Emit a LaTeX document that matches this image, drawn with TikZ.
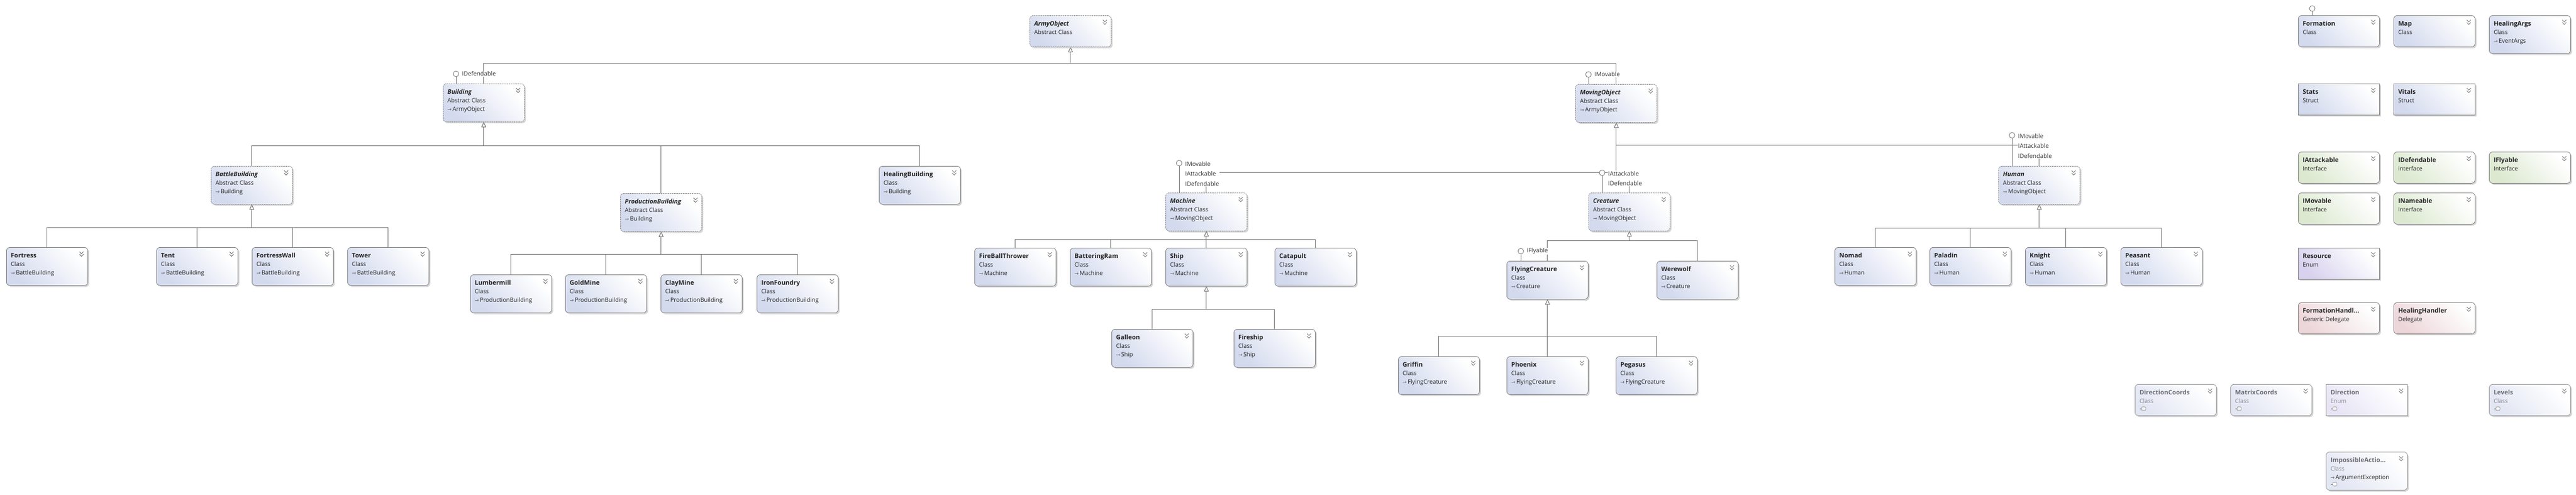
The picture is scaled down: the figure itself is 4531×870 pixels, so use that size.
\documentclass[tikz,border=0pt]{standalone}
\usepackage{fontspec}
\setmainfont{Open Sans}
\newfontfamily\arrfont{DejaVu Sans}
\usetikzlibrary{shadows,arrows.meta,positioning,calc}

\definecolor{clsfill}{HTML}{D3DAEE}
\definecolor{ifcfill}{HTML}{DCE9D0}
\definecolor{enumfill}{HTML}{D8D2EE}
\definecolor{delfill}{HTML}{EDD6D9}
\definecolor{nstfill}{HTML}{E2E6F3}
\definecolor{boxline}{HTML}{7C7C7C}
\definecolor{linegray}{HTML}{737373}
\definecolor{nsttext}{HTML}{6E6E78}

\pgfdeclarelayer{bg}
\pgfsetlayers{bg,main}

\newcommand{\titlef}{\fontsize{11}{15}\selectfont\bfseries}
\newcommand{\inh}{{\arrfont\fontsize{8.5}{15}\selectfont ⇾}\,}
\newcommand{\chev}[1]{\draw[chevron] ([xshift=-15pt,yshift=-8pt]#1.north east) -- ++(3.5,3.5) -- ++(3.5,-3.5)
  ([xshift=-15pt,yshift=-12.5pt]#1.north east) -- ++(3.5,3.5) -- ++(3.5,-3.5);}
\newcommand{\typebox}[6]{%
  \node[#1] (#2) at (#3,#4) {};
  \node[boxtext] (#2-t) at ([xshift=8pt,yshift=-10pt]#2.north west) {{\titlef #5}\\#6};
  \chev{#2}}
\newcommand{\lolli}[3]{%
  \node[lollicirc] (#1-lp) at ([xshift=#2pt,yshift=#3pt]#1.north west) {};
  \draw[conn] (#1-lp.south) -- (#1-lp.south |- #1.north);}
\newcommand{\nicon}[2]{\draw[nicon] ([xshift=12pt,yshift=-#2pt]#1.north west) ++(0,-3) rectangle ++(7,6);
  \draw[nicon] ([xshift=9pt,yshift=-#2pt]#1.north west) -- ++(3,0);}

\begin{document}
\begin{tikzpicture}[x=1pt, y=-1pt,
  box/.style={draw=boxline, line width=.8pt, rounded corners=6pt, minimum width=143pt,
    anchor=north west, inner sep=0pt,
    drop shadow={shadow xshift=2.5pt, shadow yshift=-2.5pt, opacity=.45, fill=black!35},
    top color=#1, bottom color=white, shading angle=135},
  box/.default=clsfill,
  cls/.style={box=clsfill},
  abs/.style={box=clsfill, dash pattern=on 2pt off 1.2pt},
  strct/.style={box=clsfill, sharp corners},
  ifc/.style={box=ifcfill},
  enm/.style={box=enumfill, sharp corners},
  dlg/.style={box=delfill},
  nst/.style={box=nstfill, draw=boxline!80},
  nenm/.style={box=enumfill!60, sharp corners, draw=boxline!80},
  h2/.style={minimum height=55pt},
  h3/.style={minimum height=67pt},
  boxtext/.style={anchor=north west, align=left, inner sep=0pt,
    font=\fontsize{10.3}{15}\selectfont, text=black!85},
  chevron/.style={draw=black!60, line width=.8pt},
  nicon/.style={draw=black!55, fill=white, line width=.6pt, rounded corners=1pt},
  conn/.style={draw=linegray, line width=1pt},
  gen/.style={conn, -{Triangle[length=9pt, width=8pt, fill=white, line width=.8pt]}},
  lollicirc/.style={circle, draw=linegray, fill=white, line width=.8pt, minimum size=10pt, inner sep=0pt},
  ilabel/.style={fill=white, inner sep=1pt, align=left, text=black!80,
    font=\fontsize{10.5}{17.5}\selectfont}]

\useasboundingbox (0,0) rectangle (4531,870);

\typebox{abs,h2}{army}{1811}{27}{\itshape ArmyObject}{Abstract Class}
\typebox{abs,h3}{bld}{779}{147}{\itshape Building}{Abstract Class\\\inh ArmyObject}
\typebox{abs,h3}{mob}{2771}{148}{\itshape MovingObject}{Abstract Class\\\inh ArmyObject}

\typebox{abs,h3}{bbld}{371}{292}{\itshape BattleBuilding}{Abstract Class\\\inh Building}
\typebox{abs,h3}{pbld}{1091}{340}{\itshape ProductionBuilding}{Abstract Class\\\inh Building}
\typebox{cls,h3}{hbld}{1546}{292}{HealingBuilding}{Class\\\inh Building}

\typebox{cls,h3}{fortress}{11}{435}{Fortress}{Class\\\inh BattleBuilding}
\typebox{cls,h3}{tent}{275}{435}{Tent}{Class\\\inh BattleBuilding}
\typebox{cls,h3}{fwall}{443}{435}{FortressWall}{Class\\\inh BattleBuilding}
\typebox{cls,h3}{tower}{611}{435}{Tower}{Class\\\inh BattleBuilding}

\typebox{cls,h3}{lumber}{827}{483}{Lumbermill}{Class\\\inh ProductionBuilding}
\typebox{cls,h3}{gold}{994}{483}{GoldMine}{Class\\\inh ProductionBuilding}
\typebox{cls,h3}{clay}{1162}{483}{ClayMine}{Class\\\inh ProductionBuilding}
\typebox{cls,h3}{iron}{1331}{483}{IronFoundry}{Class\\\inh ProductionBuilding}

\typebox{abs,h3}{mach}{2050}{339}{\itshape Machine}{Abstract Class\\\inh MovingObject}
\typebox{cls,h3}{fbt}{1714}{436}{FireBallThrower}{Class\\\inh Machine}
\typebox{cls,h3}{ram}{1882}{436}{BatteringRam}{Class\\\inh Machine}
\typebox{cls,h3}{ship}{2050}{436}{Ship}{Class\\\inh Machine}
\typebox{cls,h3}{cata}{2242}{436}{Catapult}{Class\\\inh Machine}
\typebox{cls,h3}{galleon}{1955}{579}{Galleon}{Class\\\inh Ship}
\typebox{cls,h3}{fship}{2170}{579}{Fireship}{Class\\\inh Ship}

\typebox{abs,h3}{creat}{2794}{339}{\itshape Creature}{Abstract Class\\\inh MovingObject}
\typebox{cls,h3}{flyc}{2650}{459}{FlyingCreature}{Class\\\inh Creature}
\typebox{cls,h3}{wolf}{2914}{459}{Werewolf}{Class\\\inh Creature}
\typebox{cls,h3}{griffin}{2459}{627}{Griffin}{Class\\\inh FlyingCreature}
\typebox{cls,h3}{phoenix}{2650}{627}{Phoenix}{Class\\\inh FlyingCreature}
\typebox{cls,h3}{pegasus}{2842}{627}{Pegasus}{Class\\\inh FlyingCreature}

\typebox{abs,h3}{human}{3515}{292}{\itshape Human}{Abstract Class\\\inh MovingObject}
\typebox{cls,h3}{nomad}{3227}{435}{Nomad}{Class\\\inh Human}
\typebox{cls,h3}{paladin}{3394}{435}{Paladin}{Class\\\inh Human}
\typebox{cls,h3}{knight}{3562}{435}{Knight}{Class\\\inh Human}
\typebox{cls,h3}{peasant}{3730}{435}{Peasant}{Class\\\inh Human}

\typebox{cls,h2}{formation}{4042}{27}{Formation}{Class}
\typebox{cls,h2}{map}{4210}{27}{Map}{Class}
\typebox{cls,h3}{hargs}{4378}{27}{HealingArgs}{Class\\\inh EventArgs}
\typebox{strct,h2}{stats}{4042}{147}{Stats}{Struct}
\typebox{strct,h2}{vitals}{4210}{147}{Vitals}{Struct}
\typebox{ifc,h2}{iatt}{4042}{267}{IAttackable}{Interface}
\typebox{ifc,h2}{idef}{4210}{267}{IDefendable}{Interface}
\typebox{ifc,h2}{ifly}{4378}{267}{IFlyable}{Interface}
\typebox{ifc,h2}{imov}{4042}{339}{IMovable}{Interface}
\typebox{ifc,h2}{iname}{4210}{339}{INameable}{Interface}
\typebox{enm,h2}{resource}{4042}{436}{Resource}{Enum}
\typebox{dlg,h2}{fhandler}{4042}{532}{FormationHandl...}{Generic Delegate}
\typebox{dlg,h2}{hhandler}{4210}{532}{HealingHandler}{Delegate}

\typebox{nst,h2}{dcoords}{3755}{676}{\color{nsttext}DirectionCoords}{\color{nsttext!80}Class}
\typebox{nst,h2}{mcoords}{3923}{676}{\color{nsttext}MatrixCoords}{\color{nsttext!80}Class}
\typebox{nenm,h2}{direction}{4091}{676}{\color{nsttext}Direction}{\color{nsttext!80}Enum}
\typebox{nst,h2}{levels}{4378}{676}{\color{nsttext}Levels}{\color{nsttext!80}Class}
\typebox{nst,h3}{impossible}{4091}{795}{\color{nsttext}ImpossibleActio...}{\color{nsttext!80}Class\\\inh ArgumentException}
\foreach \n in {dcoords,mcoords,direction,levels} \nicon{\n}{43};
\nicon{impossible}{57}

\lolli{bld}{23}{17}
\lolli{mob}{23}{17}
\lolli{mach}{24}{52}
\lolli{creat}{24}{35}
\lolli{flyc}{25}{17}
\lolli{human}{24}{54}
\lolli{formation}{25}{12}

\node[ilabel, anchor=west] (bld-il) at ([xshift=4pt]bld-lp.east) {IDefendable};
\node[ilabel, anchor=west] (mob-il) at ([xshift=4pt]mob-lp.east) {IMovable};
\node[ilabel, anchor=north west] (mach-il) at ([xshift=4pt,yshift=4pt]mach-lp.east) {IMovable\\IAttackable\\IDefendable};
\node[ilabel, anchor=north west] (creat-il) at ([xshift=4pt,yshift=4pt]creat-lp.east) {IAttackable\\IDefendable};
\node[ilabel, anchor=west] (flyc-il) at ([xshift=4pt]flyc-lp.east) {IFlyable};
\node[ilabel, anchor=north west] (human-il) at ([xshift=4pt,yshift=4pt]human-lp.east) {IMovable\\IAttackable\\IDefendable};

\coordinate (army-bus) at ([yshift=-29pt]army.south);
\coordinate (bld-bus) at ([yshift=-42pt]bld.south);
\coordinate (bbld-bus) at ([yshift=-41pt]bbld.south);
\coordinate (pbld-bus) at ([yshift=-40pt]pbld.south);
\coordinate (mob-bus) at ([yshift=-40pt]mob.south);
\coordinate (mob-bus2) at ([yshift=-88pt]mob.south);
\coordinate (mach-bus) at ([yshift=-15pt]mach.south);
\coordinate (ship-bus) at ([yshift=-41pt]ship.south);
\coordinate (creat-bus) at ([yshift=-17pt]creat.south);
\coordinate (flyc-bus) at ([yshift=-65pt]flyc.south);
\coordinate (human-bus) at ([yshift=-42pt]human.south);

\begin{pgfonlayer}{bg}
\fill[white] (0,0) rectangle (4531,870);
\foreach \c in {bld,mob} \draw[gen] (\c.north) |- (army-bus) -- (army.south);
\foreach \c in {bbld,pbld,hbld} \draw[gen] (\c.north) |- (bld-bus) -- (bld.south);
\foreach \c in {fortress,tent,fwall,tower} \draw[gen] (\c.north) |- (bbld-bus) -- (bbld.south);
\foreach \c in {lumber,gold,clay,iron} \draw[gen] (\c.north) |- (pbld-bus) -- (pbld.south);
\draw[gen] (human.north) |- (mob-bus) -- (mob.south);
\foreach \c in {mach,creat} \draw[gen] (\c.north) |- (mob-bus2) -- (mob.south);
\foreach \c in {fbt,ram,ship,cata} \draw[gen] (\c.north) |- (mach-bus) -- (mach.south);
\foreach \c in {galleon,fship} \draw[gen] (\c.north) |- (ship-bus) -- (ship.south);
\foreach \c in {flyc,wolf} \draw[gen] (\c.north) |- (creat-bus) -- (creat.south);
\foreach \c in {griffin,phoenix,pegasus} \draw[gen] (\c.north) |- (flyc-bus) -- (flyc.south);
\foreach \c in {nomad,paladin,knight,peasant} \draw[gen] (\c.north) |- (human-bus) -- (human.south);
\end{pgfonlayer}

\end{tikzpicture}
\end{document}
